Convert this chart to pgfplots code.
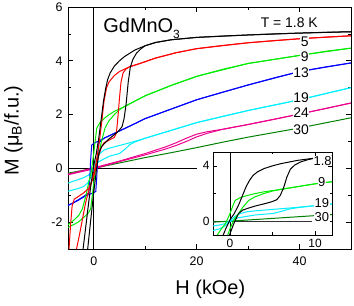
\documentclass[border=0pt]{standalone}
\usepackage{fontspec}
\setmainfont{Liberation Sans}
\usepackage{pgfplots}
\usepackage{pgfplotstable}
\pgfplotsset{compat=1.18}
\definecolor{dgreen}{RGB}{0,128,0}
\definecolor{lgreen}{RGB}{0,235,0}
\definecolor{cyn}{RGB}{0,240,255}

% 1.8 K, field decreasing
\pgfplotstableread{
h m
50 5.08
45 5.06
40 5.03
35 5.00
30 4.96
25 4.92
20 4.87
15 4.78
12 4.68
10 4.56
8 4.40
6 4.16
5 4.00
4 3.80
3.2 3.55
2.7 3.30
2.3 2.95
1.9 2.50
1.5 1.90
1.0 1.15
0.5 0.55
0 0.10
-0.5 -0.55
-1.0 -1.30
-1.5 -2.10
-2.1 -3.05
-2.6 -3.70
-3.5 -4.20
-5 -4.60
}\tblAU
% 1.8 K, field increasing
\pgfplotstableread{
h m
-5 -4.70
-3 -4.40
-2 -3.90
-1.2 -3.05
-0.6 -1.95
0 -0.90
0.5 -0.10
1.0 0.55
1.5 0.80
2.2 0.95
3 1.10
4 1.25
4.9 1.40
5.5 1.55
5.9 1.85
6.3 2.40
6.7 3.20
7.1 3.75
7.6 4.05
8.3 4.28
9.2 4.45
10 4.56
12 4.68
15 4.78
20 4.87
30 4.96
40 5.03
50 5.08
}\tblAL
% 5 K
\pgfplotstableread{
h m
50 4.93
45 4.88
40 4.82
35 4.75
30 4.67
25 4.57
20 4.45
16 4.30
12 4.10
9 3.90
7 3.78
5 3.60
4 3.45
3 3.22
2.5 3.00
2 2.50
1.6 1.80
1.2 1.15
0.8 0.60
0.4 0.15
0 -0.20
-0.5 -0.55
-1 -0.75
-2 -0.92
-3 -1.05
-3.8 -1.15
-4.2 -1.40
-4.5 -2.10
-4.8 -3.00
-5 -3.40
}\tblBU
\pgfplotstableread{
h m
-5 -4.00
-4 -3.60
-3.4 -3.05
-2.8 -2.50
-2.2 -1.90
-1.6 -1.30
-1 -0.85
-0.5 -0.55
0 -0.30
0.5 0.10
1 0.50
1.5 0.80
2 0.95
3 1.05
4 1.15
4.4 1.30
4.7 1.90
5.0 2.60
5.3 3.20
5.7 3.55
6.3 3.70
7 3.78
9 3.90
12 4.10
16 4.30
20 4.45
30 4.67
40 4.82
50 4.93
}\tblBL
% 9 K
\pgfplotstableread{
h m
50 4.47
45 4.35
40 4.20
35 4.05
30 3.90
25 3.68
20 3.42
15 3.08
12 2.85
10 2.70
8 2.50
6 2.30
4 2.12
3 2.00
2 1.85
1.2 1.70
0.6 1.50
0.3 1.05
0 0.55
-0.5 -0.15
-1 -0.55
-1.5 -1.00
-2.2 -1.50
-2.9 -1.75
-4 -1.95
-5 -2.10
}\tblCU
\pgfplotstableread{
h m
-5 -2.20
-4 -2.10
-3 -2.00
-1.8 -1.80
-1 -1.65
-0.6 -1.50
-0.3 -1.05
0 -0.55
0.5 0.15
1 0.55
1.5 1.00
2.2 1.50
2.9 1.75
4 2.00
5 2.18
6 2.30
8 2.50
10 2.70
15 3.08
20 3.42
30 3.90
40 4.20
50 4.47
}\tblCL
% 13 K
\pgfplotstableread{
h m
50 3.92
45 3.77
40 3.60
35 3.36
30 3.10
25 2.83
20 2.55
15 2.20
10 1.85
7 1.57
4 1.30
2 1.12
1 1.02
0 0.93
-0.4 0.86
-0.6 0.30
-0.8 -0.50
-1.0 -0.92
-2 -1.05
-3 -1.17
-4 -1.28
-5 -1.38
}\tblDU
\pgfplotstableread{
h m
-5 -1.38
-4 -1.29
-3 -1.19
-2 -1.07
-1 -0.98
0 -0.90
0.4 -0.86
0.6 -0.30
0.8 0.50
1.0 0.95
2 1.12
4 1.30
7 1.57
10 1.85
15 2.20
20 2.55
30 3.10
40 3.60
50 3.92
}\tblDL
% 19 K
\pgfplotstableread{
h m
50 3.00
45 2.78
40 2.55
35 2.35
30 2.15
25 1.93
20 1.70
14.5 1.38
10 1.12
7 0.95
5 0.85
3 0.75
2 0.68
1.2 0.55
0.6 0.35
0 0.05
-0.5 -0.15
-1 -0.25
-2 -0.35
-3 -0.42
-4 -0.48
-5 -0.55
}\tblEU
\pgfplotstableread{
h m
-5 -0.85
-4 -0.80
-3 -0.75
-2 -0.68
-1.2 -0.55
-0.6 -0.35
0 -0.05
0.5 0.15
1 0.25
2 0.35
3 0.45
4 0.50
5 0.55
6 0.70
7 0.88
8 0.98
10 1.12
14.5 1.38
20 1.70
30 2.15
40 2.55
50 3.00
}\tblEL
% 24 K
\pgfplotstableread{
h m
50 2.43
45 2.22
40 2.02
35 1.82
30 1.63
25 1.45
22 1.36
20 1.27
18 1.12
16 0.95
14 0.80
10 0.55
5 0.27
0 0.02
-5 -0.22
}\tblFU
\pgfplotstableread{
h m
-5 -0.24
0 -0.02
5 0.25
10 0.50
14 0.72
16 0.85
18 1.00
20 1.17
22 1.30
25 1.45
30 1.63
40 2.02
50 2.43
}\tblFL
% 30 K
\pgfplotstableread{
h m
-5 -0.18
0 0.00
5 0.20
10 0.40
15 0.58
20 0.77
25 0.97
30 1.16
35 1.33
40 1.50
45 1.69
50 1.88
}\tblG

\begin{document}
\begin{tikzpicture}
\begin{axis}[
  scale only axis, width=283bp, height=242bp,
  xmin=-5, xmax=50, ymin=-3, ymax=6,
  xtick={0,20,40}, minor xtick={10,30},
  ytick={-2,0,2,4,6}, minor ytick={-3,-1,1,3,5},
  tick align=inside, major tick length=5bp, minor tick length=3bp,
  tick style={black, line width=0.6pt},
  axis line style={line width=0.8pt},
  /pgf/number format/assume math mode=true,
  ticklabel style={font=\fontsize{12.5}{14}\selectfont},
  xticklabel style={yshift=-4bp},
  yticklabel style={xshift=-2bp},
  xlabel={H (kOe)}, ylabel={M (μ\textsubscript{B}/f.u.)},
  label style={font=\fontsize{20}{24}\selectfont},
  xlabel style={at={(axis description cs:0.503,-0.165)}, anchor=center},
  ylabel style={at={(axis description cs:-0.193,0.49)}, anchor=center},
  every axis plot/.append style={line width=1pt, no markers},
]
\addplot[black, line width=0.8pt] coordinates {(0,-3) (0,6)};
\addplot[black, line width=0.8pt] coordinates {(-5,0) (20,0)};
\addplot[dgreen] table {\tblG};
\addplot[magenta] table {\tblFU};
\addplot[magenta] table {\tblFL};
\addplot[cyn] table {\tblEU};
\addplot[cyn] table {\tblEL};
\addplot[blue] table {\tblDU};
\addplot[blue] table {\tblDL};
\addplot[lgreen] table {\tblCU};
\addplot[lgreen] table {\tblCL};
\addplot[red] table {\tblBU};
\addplot[red] table {\tblBL};
\addplot[black] table {\tblAU};
\addplot[black] table {\tblAL};
\node[font=\fontsize{20}{24}\selectfont, anchor=base west] at (axis cs:1.2,5.05) {GdMnO\raisebox{-6bp}{\fontsize{12}{14}\selectfont 3}};
\begin{scope}[every node/.style={fill=white, inner sep=0.6pt, font=\fontsize{14}{16}\selectfont}]
\node at (axis cs:38,5.4) {T = 1.8 K};
\node at (axis cs:41,4.72) {5};
\node at (axis cs:41,4.15) {9};
\node at (axis cs:40.3,3.55) {13};
\node at (axis cs:40.3,2.62) {19};
\node at (axis cs:40.3,2.06) {24};
\node at (axis cs:40.3,1.42) {30};
\end{scope}
\end{axis}
\begin{axis}[
  at={(145bp,14bp)}, anchor=south west,
  scale only axis, width=119bp, height=83bp,
  axis background/.style={fill=white},
  xmin=-2, xmax=12, ymin=-1, ymax=5,
  xtick={0,10}, minor xtick={5},
  ytick={0,4}, minor ytick={2},
  tick align=inside, major tick length=4bp, minor tick length=2.5bp,
  tick style={black, line width=0.5pt},
  axis line style={line width=0.7pt},
  /pgf/number format/assume math mode=true,
  ticklabel style={font=\fontsize{12}{14}\selectfont},
  xticklabel style={yshift=-1bp},
  every axis plot/.append style={line width=1pt, no markers},
]
\addplot[black, line width=0.8pt] coordinates {(0,-1) (0,5)};
\addplot[black!80, line width=1pt] coordinates {(-2,0) (9.6,0)};
\addplot[dgreen] table {\tblG};
\addplot[cyn] table {\tblEU};
\addplot[cyn] table {\tblEL};
\addplot[lgreen] table {\tblCU};
\addplot[lgreen] table {\tblCL};
\addplot[black] table {\tblAU};
\addplot[black] table {\tblAL};
\begin{scope}[every node/.style={fill=white, inner sep=0.5pt, font=\fontsize{13}{15}\selectfont}]
\node at (axis cs:10.9,4.35) {1.8};
\node at (axis cs:10.8,2.85) {9};
\node at (axis cs:10.8,1.3) {19};
\node at (axis cs:10.8,0.3) {30};
\end{scope}
\end{axis}
\pgfresetboundingbox
\path[use as bounding box] (-68bp,-57bp) rectangle (286bp,249bp);
\end{tikzpicture}
\end{document}
